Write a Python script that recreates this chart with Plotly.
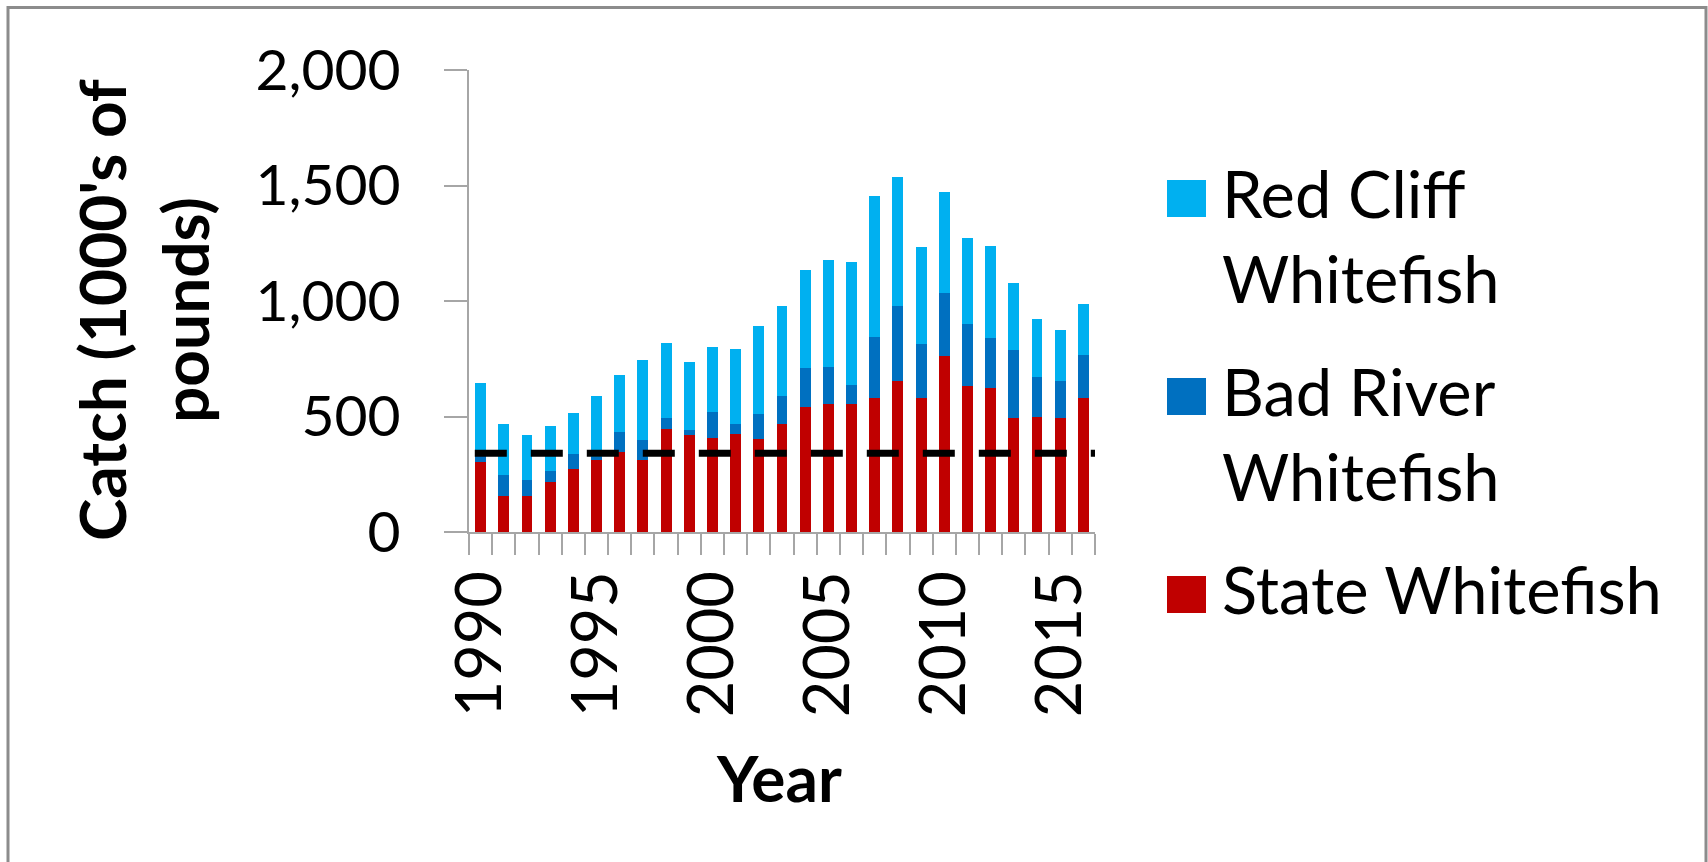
import plotly.graph_objects as go

# ---------------- data ----------------
years = list(range(1990, 2017))
state_whitefish = [305, 157, 157, 216, 271, 313, 346, 313, 444, 418, 409, 426, 402, 468,
                   542, 556, 556, 581, 655, 581, 761, 631, 622, 493, 500, 493, 581]
bad_river_whitefish = [38, 91, 69, 48, 65, 11, 86, 87, 49, 23, 110, 41, 111, 120,
                       168, 160, 79, 265, 325, 233, 272, 268, 217, 295, 170, 161, 187]
red_cliff_whitefish = [302, 219, 192, 194, 180, 264, 247, 345, 325, 295, 282, 325, 379, 392,
                       425, 461, 533, 608, 556, 418, 437, 375, 401, 290, 253, 220, 220]
reference_level = 341
series_names = ["Red Cliff<br>Whitefish", "Bad River<br>Whitefish", "State Whitefish"]
x_tick_labels = [1990, 1995, 2000, 2005, 2010, 2015]
y_tick_values = [0, 500, 1000, 1500, 2000]
y_title = "Catch (1000's of<br>pounds)"
x_title = "Year"

# ---------------- style ----------------
C_RED_CLIFF = "#00B0F0"
C_BAD_RIVER = "#0070C0"
C_STATE = "#C00000"
AXIS_GREY = "#A6A6A6"
BORDER_GREY = "#8C8C8C"
FONT = "Lato"

W, H = 1708, 862
PL, PR, PT, PB = 469, 1095, 70, 532   # plot area in pixels


def px_x(px):
    return (px - PL) / (PR - PL)


def px_y(py):
    return (PB - py) / (PB - PT)


fig = go.Figure()

fig.add_trace(go.Bar(x=years, y=state_whitefish, name="State Whitefish",
                     marker=dict(color=C_STATE, line=dict(width=0)), showlegend=False))
fig.add_trace(go.Bar(x=years, y=bad_river_whitefish, name="Bad River Whitefish",
                     marker=dict(color=C_BAD_RIVER, line=dict(width=0)), showlegend=False))
fig.add_trace(go.Bar(x=years, y=red_cliff_whitefish, name="Red Cliff Whitefish",
                     marker=dict(color=C_RED_CLIFF, line=dict(width=0)), showlegend=False))

fig.add_trace(go.Scatter(x=[years[0] - 0.25, years[-1] + 0.72],
                         y=[reference_level, reference_level],
                         mode="lines", cliponaxis=False, showlegend=False,
                         line=dict(color="black", width=7, dash="32px,24px")))

fig.update_layout(
    width=W, height=H,
    margin=dict(l=PL, r=W - PR, t=PT, b=H - PB, pad=0),
    paper_bgcolor="white", plot_bgcolor="white",
    barmode="stack", bargap=0.53,
    showlegend=False,
    font=dict(family=FONT, size=60, color="black"),
)

fig.update_xaxes(
    type="linear", range=[years[0] - 0.5, years[-1] + 0.5],
    tickmode="array", tickvals=x_tick_labels, ticktext=[str(v) for v in x_tick_labels],
    ticks="", tickangle=-90, ticklabelstandoff=12,
    tickfont=dict(family=FONT, size=63, color="black"),
    showline=True, linecolor=AXIS_GREY, linewidth=2,
    showgrid=False, zeroline=False,
    minor=dict(tickmode="linear", tick0=years[0] - 0.5, dtick=1, ticks="outside",
               ticklen=21, tickwidth=2, tickcolor=AXIS_GREY, showgrid=False),
)

fig.update_yaxes(
    range=[0, 2000], tickmode="array", tickvals=y_tick_values, tickformat=",",
    ticks="outside", ticklen=23, tickwidth=2, tickcolor=AXIS_GREY,
    ticklabelstandoff=32,
    tickfont=dict(family=FONT, size=57, color="black"),
    showline=True, linecolor=AXIS_GREY, linewidth=2,
    showgrid=False, zeroline=False,
)

shapes = [
    # outer chart border (bottom edge lies outside the picture)
    dict(type="rect", xref="paper", yref="paper",
         x0=px_x(8), x1=px_x(1706), y0=px_y(910), y1=px_y(7.5),
         line=dict(color=BORDER_GREY, width=3), fillcolor="rgba(0,0,0,0)", layer="above"),
]

annotations = [
    dict(text=y_title, xref="paper", yref="paper", x=px_x(143), y=px_y(310),
         xanchor="center", yanchor="middle", textangle=-90, showarrow=False,
         font=dict(family=FONT, size=64, color="black", weight="bold"), align="center"),
    dict(text=x_title, xref="paper", yref="paper", x=px_x(779), y=px_y(777),
         xanchor="center", yanchor="middle", showarrow=False,
         font=dict(family=FONT, size=64, color="black", weight="bold")),
]

# manual legend (large square keys, as in the reference)
legend_colors = [C_RED_CLIFF, C_BAD_RIVER, C_STATE]
LEG_FONT = 65
for i, (name, col) in enumerate(zip(series_names, legend_colors)):
    base = 217 + 198 * i
    shapes.append(dict(type="rect", xref="paper", yref="paper",
                       x0=px_x(1167), x1=px_x(1206), y0=px_y(base), y1=px_y(base - 37),
                       line=dict(width=0), fillcolor=col))
    annotations.append(dict(text=name, xref="paper", yref="paper",
                            x=px_x(1220), y=px_y(base - 0.99 * LEG_FONT - 1),
                            xanchor="left", yanchor="top", align="left", showarrow=False,
                            font=dict(family=FONT, size=LEG_FONT, color="black")))

fig.update_layout(shapes=shapes, annotations=annotations)

fig.write_html("out.html")
